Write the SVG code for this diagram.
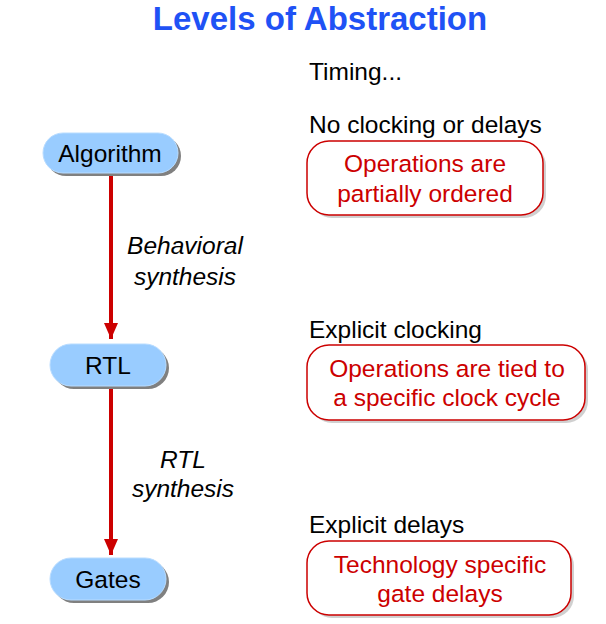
<svg xmlns="http://www.w3.org/2000/svg" width="606" height="624" viewBox="0 0 606 624">
<style>
.title{font-family:"Liberation Sans",Arial,sans-serif;font-weight:bold;font-size:33px;fill:#1f52f5}
.t{font-family:"Liberation Sans",Arial,sans-serif;font-size:24.5px;fill:#000}
.r{font-family:"Liberation Sans",Arial,sans-serif;font-size:24.5px;fill:#cc0000;text-anchor:middle}
.n{font-family:"Liberation Sans",Arial,sans-serif;font-size:24.5px;fill:#000;text-anchor:middle}
.i{font-family:"Liberation Sans",Arial,sans-serif;font-size:24.5px;font-style:italic;fill:#000;text-anchor:middle}
.pill{fill:#99ccff;stroke:#b8dcff;stroke-width:1}
.sh{fill:#808080}
.box{fill:#fff;stroke:#cc0000;stroke-width:1.5}
.bsh{fill:#d0d0d0}
.edge{stroke:#cc0000;stroke-width:4;fill:none}
</style>
<defs>
<marker id="ah" markerWidth="16" markerHeight="14" refX="16" refY="7" orient="auto" markerUnits="userSpaceOnUse">
<path d="M0,0 L16,7 L0,14 Z" fill="#cc0000"/>
</marker>
</defs>
<text class="title" x="320" y="30" text-anchor="middle">Levels of Abstraction</text>
<text class="t" x="309" y="80">Timing...</text>
<text class="t" x="309" y="133">No clocking or delays</text>
<text class="t" x="309" y="338">Explicit clocking</text>
<text class="t" x="309" y="533">Explicit delays</text>

<g id="connectors">
<line class="edge" x1="111" y1="173" x2="111" y2="339" marker-end="url(#ah)"/>
<line class="edge" x1="111" y1="387" x2="111" y2="555" marker-end="url(#ah)"/>
<text class="i" x="185" y="254">Behavioral</text>
<text class="i" x="185" y="285">synthesis</text>
<text class="i" x="183" y="468">RTL</text>
<text class="i" x="183" y="497">synthesis</text>
</g>

<g id="algorithm">
<rect class="sh" x="46" y="136" width="135" height="40" rx="20"/>
<rect class="pill" x="43" y="133" width="135" height="40" rx="20"/>
<text class="n" x="110" y="162">Algorithm</text>
</g>
<g id="rtl">
<rect class="sh" x="53" y="347" width="116" height="42" rx="21"/>
<rect class="pill" x="50" y="344" width="116" height="42" rx="21"/>
<text class="n" x="108" y="374">RTL</text>
</g>
<g id="gates">
<rect class="sh" x="53" y="561" width="116" height="42" rx="21"/>
<rect class="pill" x="50" y="558" width="116" height="42" rx="21"/>
<text class="n" x="108" y="588">Gates</text>
</g>

<g id="box1">
<rect class="bsh" x="310" y="144" width="236" height="74" rx="22"/>
<rect class="box" x="307" y="141" width="236" height="74" rx="22"/>
<text class="r" x="425" y="172">Operations are</text>
<text class="r" x="425" y="202">partially ordered</text>
</g>
<g id="box2">
<rect class="bsh" x="310" y="348" width="278" height="75" rx="22"/>
<rect class="box" x="307" y="345" width="278" height="75" rx="22"/>
<text class="r" x="447" y="377">Operations are tied to</text>
<text class="r" x="447" y="406">a specific clock cycle</text>
</g>
<g id="box3">
<rect class="bsh" x="310" y="544" width="264" height="74" rx="22"/>
<rect class="box" x="307" y="541" width="264" height="74" rx="22"/>
<text class="r" x="440" y="573">Technology specific</text>
<text class="r" x="440" y="602">gate delays</text>
</g>
</svg>
